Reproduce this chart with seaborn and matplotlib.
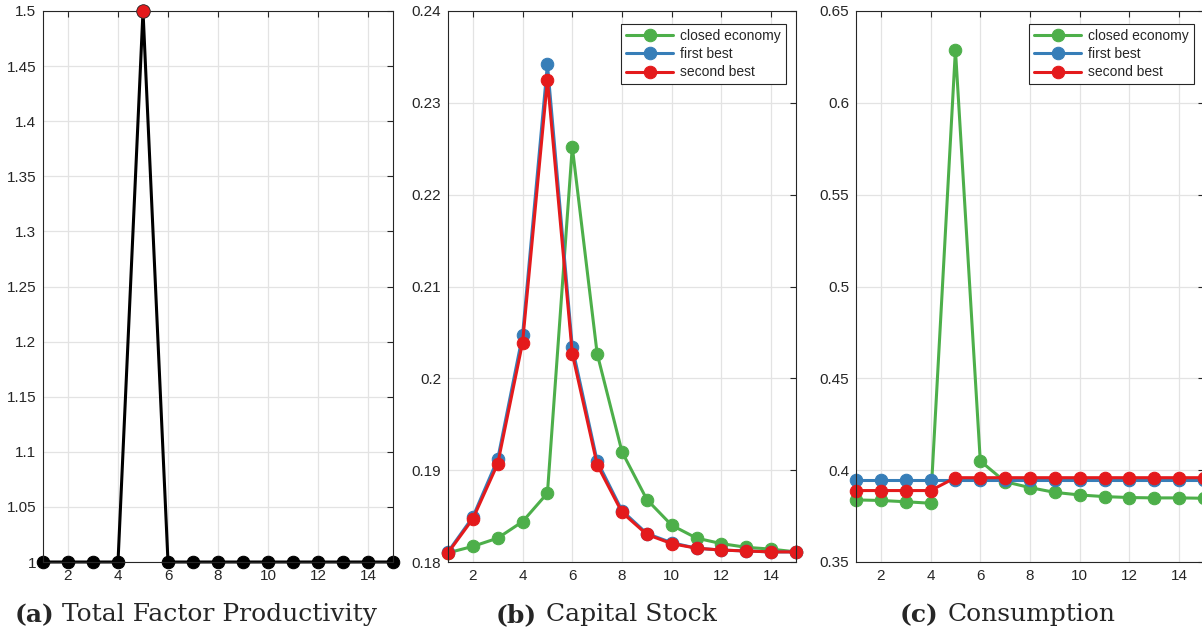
import matplotlib
matplotlib.use('Agg')
import matplotlib.pyplot as plt
import seaborn as sns
from matplotlib.ticker import FuncFormatter, MultipleLocator

# Data
periods = list(range(1, 16))
tfp = [1, 1, 1, 1, 1.5, 1, 1, 1, 1, 1, 1, 1, 1, 1, 1]

capital_closed = [0.1810, 0.1817, 0.1826, 0.1844, 0.1875, 0.2252, 0.2027, 0.1920,
                  0.1868, 0.1840, 0.1826, 0.1820, 0.1816, 0.1814, 0.1811]
capital_first = [0.1811, 0.1849, 0.1912, 0.2047, 0.2342, 0.2034, 0.1910, 0.1856,
                 0.1831, 0.1821, 0.1815, 0.1813, 0.1812, 0.1811, 0.1811]
capital_second = [0.1810, 0.1847, 0.1907, 0.2039, 0.2325, 0.2027, 0.1906, 0.1854,
                  0.1830, 0.1820, 0.1815, 0.1813, 0.1812, 0.1811, 0.1811]

cons_closed = [0.3838, 0.3835, 0.3828, 0.3820, 0.6290, 0.4050, 0.3937, 0.3905,
               0.3879, 0.3865, 0.3856, 0.3851, 0.3849, 0.3849, 0.3847]
cons_first = [0.3947] * 15
cons_second = [0.3889, 0.3889, 0.3889, 0.3889, 0.3959, 0.3959, 0.3959, 0.3959,
               0.3959, 0.3959, 0.3959, 0.3959, 0.3959, 0.3959, 0.3959]

series_labels = ['closed economy', 'first best', 'second best']
series_colors = ['#4daf4a', '#377eb8', '#e41a1c']

captions = [('(a)', 'Total Factor Productivity'),
            ('(b)', 'Capital Stock'),
            ('(c)', 'Consumption')]

sns.set_style('white')
plt.rcParams['font.family'] = ['Liberation Sans', 'DejaVu Sans']

W, H = 1202, 634
fig = plt.figure(figsize=(W / 100, H / 100), dpi=100)


def make_axes(left, right, top=11, bottom=562):
    return fig.add_axes([left / W, (H - bottom) / H, (right - left) / W, (bottom - top) / H])


def style_axes(ax, ylo, yhi, ystep):
    ax.set_xlim(1, 15)
    ax.set_ylim(ylo, yhi)
    ax.xaxis.set_major_locator(MultipleLocator(2))
    ax.yaxis.set_major_locator(MultipleLocator(ystep))
    ax.yaxis.set_major_formatter(FuncFormatter(lambda v, p: '%g' % round(v, 4)))
    ax.grid(True, color='#e3e3e3', linewidth=0.9)
    ax.set_axisbelow(True)
    ax.tick_params(direction='in', top=True, right=True, length=4, width=0.8,
                   labelsize=11, colors='#262626', pad=5)
    for s in ax.spines.values():
        s.set_color('#262626')
        s.set_linewidth(0.8)
    ax.set_xlabel('')
    ax.set_ylabel('')


line_kw = dict(marker='o', markersize=9, linewidth=2.2, clip_on=False)

# (a) TFP
ax1 = make_axes(43, 393)
sns.lineplot(x=periods, y=tfp, color='black', markeredgecolor='black', ax=ax1, **line_kw)
peak = tfp.index(max(tfp))
sns.scatterplot(x=[periods[peak]], y=[tfp[peak]], color='#e41a1c', s=95,
                edgecolor='#333333', linewidth=0.6, zorder=5, clip_on=False, ax=ax1)
style_axes(ax1, 1, 1.5, 0.05)

# (b) Capital
ax2 = make_axes(448, 796)
for ys, lab, col in zip([capital_closed, capital_first, capital_second], series_labels, series_colors):
    sns.lineplot(x=periods, y=ys, color=col, markeredgecolor=col, label=lab, ax=ax2, **line_kw)
style_axes(ax2, 0.18, 0.24, 0.01)

# (c) Consumption
ax3 = make_axes(856, 1204)
for ys, lab, col in zip([cons_closed, cons_first, cons_second], series_labels, series_colors):
    sns.lineplot(x=periods, y=ys, color=col, markeredgecolor=col, label=lab, ax=ax3, **line_kw)
style_axes(ax3, 0.35, 0.65, 0.05)

for ax in (ax2, ax3):
    leg = ax.legend(loc='upper right', bbox_to_anchor=(0.971, 0.976), fontsize=10,
                    frameon=True, fancybox=False, framealpha=1, edgecolor='#262626',
                    handlelength=3.4, labelspacing=0.3, borderpad=0.35,
                    borderaxespad=0, handletextpad=0.5)
    leg.get_frame().set_linewidth(0.8)
    for h in leg.legend_handles:
        h.set_markersize(9)

# captions: bold label + serif text
cap_pos = [(54, 62), (537, 546), (938, 948)]
for (bold, txt), (xb, xt) in zip(captions, cap_pos):
    y = (H - 615) / H
    fig.text(xb / W, y, bold, ha='right', va='center', fontsize=18,
             fontweight='bold', family='DejaVu Serif')
    fig.text(xt / W, y, txt, ha='left', va='center', fontsize=18,
             family='DejaVu Serif')

fig.savefig('out.png', dpi=100)
